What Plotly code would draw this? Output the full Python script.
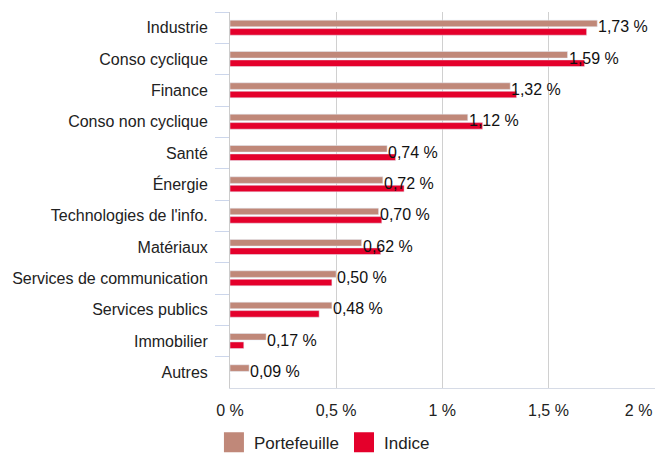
import plotly.graph_objects as go

categories = [
    "Industrie",
    "Conso cyclique",
    "Finance",
    "Conso non cyclique",
    "Santé",
    "Énergie",
    "Technologies de l'info.",
    "Matériaux",
    "Services de communication",
    "Services publics",
    "Immobilier",
    "Autres",
]
portefeuille = [1.73, 1.59, 1.32, 1.12, 0.74, 0.72, 0.70, 0.62, 0.50, 0.48, 0.17, 0.09]
indice = [1.68, 1.67, 1.35, 1.19, 0.78, 0.82, 0.715, 0.71, 0.48, 0.42, 0.065, 0.0]
x_ticks = [0, 0.5, 1, 1.5, 2]
x_tick_labels = ["0 %", "0,5 %", "1 %", "1,5 %", "2 %"]

COLOR_PF = "#c08879"
COLOR_IDX = "#e4002b"
FONT = "Liberation Sans, Arial, sans-serif"

fig = go.Figure()
fig.add_trace(
    go.Bar(
        y=categories,
        x=portefeuille,
        orientation="h",
        name="Portefeuille",
        marker_color=COLOR_PF,
        showlegend=False,
    )
)
fig.add_trace(
    go.Bar(
        y=categories,
        x=indice,
        orientation="h",
        name="Indice",
        marker_color=COLOR_IDX,
        showlegend=False,
    )
)

# legend entries with bigger square swatches (also keep x2 alive)
for name, color in [("Portefeuille", COLOR_PF), ("Indice", COLOR_IDX)]:
    fig.add_trace(
        go.Scatter(
            x=[None],
            y=[None],
            xaxis="x2",
            mode="markers",
            name=name,
            marker=dict(symbol="square", size=16, color=color, line=dict(width=4, color=color)),
        )
    )

# value labels for the portfolio only
for cat, val in zip(categories, portefeuille):
    fig.add_annotation(
        x=val,
        y=cat,
        text=f"{val:.2f} %".replace(".", ","),
        showarrow=False,
        xanchor="left",
        xshift=-1,
        yshift=1,
        font=dict(size=16, color="#111111", family=FONT),
    )

# the page body adds an 8px offset, so the figure is 8px smaller on each side
fig.update_layout(
    width=662,
    height=450,
    margin=dict(l=222, r=15, t=4, b=70),
    paper_bgcolor="white",
    plot_bgcolor="white",
    barmode="group",
    bargap=0.46,
    bargroupgap=0.22,
    font=dict(family=FONT, size=16, color="#222222"),
    legend=dict(
        orientation="h",
        xref="container",
        x=0.478,
        xanchor="center",
        yref="container",
        y=0.034,
        yanchor="middle",
        font=dict(size=17, color="#222222"),
        itemwidth=30,
    ),
    # second x axis only carries the last tick label, pulled inside the chart
    xaxis2=dict(
        overlaying="x",
        matches="x",
        side="bottom",
        tickvals=x_ticks[-1:],
        ticktext=x_tick_labels[-1:],
        ticklabelshift=-16,
        ticklabelstandoff=11,
        ticks="",
        showgrid=False,
        showline=False,
        zeroline=False,
        tickfont=dict(size=16),
        automargin=False,
    ),
)
fig.layout.xaxis.update(
    range=[0, 2.002],
    tickvals=x_ticks,
    ticktext=x_tick_labels[:-1] + [""],
    showgrid=True,
    gridcolor="#d0d0d0",
    gridwidth=1,
    zeroline=False,
    showline=True,
    linecolor="#d6dbe6",
    ticks="",
    ticklabelstandoff=8,
    tickfont=dict(size=16),
    automargin=False,
)
fig.update_yaxes(
    autorange="reversed",
    showline=True,
    linecolor="#cccccc",
    ticks="outside",
    tickson="boundaries",
    ticklen=14,
    tickcolor="#ccd6eb",
    ticklabelstandoff=18,
    tickfont=dict(size=16),
    showgrid=False,
    automargin=False,
)

fig.write_html("out.html")
